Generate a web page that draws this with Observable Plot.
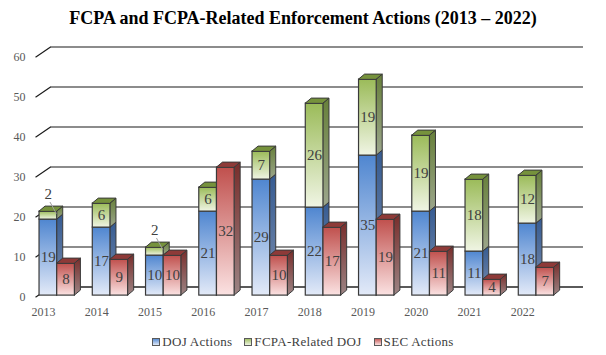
<!DOCTYPE html>
<html><head><meta charset="utf-8">
<script src="https://cdn.jsdelivr.net/npm/d3@7"></script>
<script src="https://cdn.jsdelivr.net/npm/@observablehq/plot@0.6"></script>
<style>
body{margin:0;background:#fff;width:606px;height:355px;overflow:hidden;font-family:"Liberation Serif","Times New Roman",serif;position:relative;}
#title{height:36px;line-height:36px;text-align:center;font-weight:bold;font-size:18px;color:#000;}
#chart svg{display:block;}
#legend{position:absolute;top:334px;left:0;width:606px;text-align:center;font-size:13px;line-height:16px;color:#404040;letter-spacing:0.3px;}
#legend .it{display:inline-block;margin:0 6px;}
#legend i{display:inline-block;width:6px;height:6px;border:1px solid #595959;margin-right:2px;vertical-align:0px;}
</style></head><body>
<svg width="0" height="0" style="position:absolute"><defs>
<linearGradient id="gBlue" x1="0" y1="0" x2="0" y2="1"><stop offset="0" stop-color="#4f86d0"/><stop offset="1" stop-color="#e3eaf8"/></linearGradient>
<linearGradient id="gBlueSide" x1="0" y1="0" x2="0" y2="1"><stop offset="0" stop-color="#355b92"/><stop offset="1" stop-color="#7d8fae"/></linearGradient>
<linearGradient id="gGreen" x1="0" y1="0" x2="0" y2="1"><stop offset="0" stop-color="#9bbb59"/><stop offset="1" stop-color="#f0f5e4"/></linearGradient>
<linearGradient id="gGreenSide" x1="0" y1="0" x2="0" y2="1"><stop offset="0" stop-color="#67803a"/><stop offset="1" stop-color="#9ca68c"/></linearGradient>
<linearGradient id="gRed" x1="0" y1="0" x2="0" y2="1"><stop offset="0" stop-color="#c0504d"/><stop offset="1" stop-color="#fbe2e2"/></linearGradient>
<linearGradient id="gRedSide" x1="0" y1="0" x2="0" y2="1"><stop offset="0" stop-color="#782d2b"/><stop offset="1" stop-color="#9c8484"/></linearGradient>
</defs></svg>
<div id="title">FCPA and FCPA-Related Enforcement Actions (2013 – 2022)</div>
<div id="chart"></div>
<div id="legend"><span class="it"><i style="background:linear-gradient(#5b8ed3,#dfe8f7)"></i>DOJ Actions</span><span class="it"><i style="background:linear-gradient(#a3c066,#eef4e2)"></i>FCPA-Related DOJ</span><span class="it"><i style="background:linear-gradient(#c65d5a,#fbe2e2)"></i>SEC Actions</span></div>
<script>
const years = [2013, 2014, 2015, 2016, 2017, 2018, 2019, 2020, 2021, 2022];
const dojActions = [19, 17, 10, 21, 29, 22, 35, 21, 11, 18];
const fcpaRelatedDoj = [2, 6, 2, 6, 7, 26, 19, 19, 18, 12];
const secActions = [8, 9, 10, 32, 10, 17, 19, 11, 4, 7];
const yTicks = [0, 10, 20, 30, 40, 50, 60];

// geometry (style constants, in scale units)
const BW = 0.332, OFF = -0.075, DX = 0.113, DY = 1.25, BASE = 0.4;
const GX0 = 2012.85, GX = 0.282, GY = 2.55, GXEND = 2023.14;

const segs = [];
years.forEach((yr, i) => {
  const l = yr + OFF, r = l + BW;
  segs.push({id: "d" + i, kind: "doj", x1: l, x2: r, y1: BASE, y2: BASE + dojActions[i], v: dojActions[i]});
  segs.push({id: "f" + i, kind: "rel", x1: l, x2: r, y1: BASE + dojActions[i], y2: BASE + dojActions[i] + fcpaRelatedDoj[i], v: fcpaRelatedDoj[i]});
  segs.push({id: "s" + i, kind: "sec", x1: r, x2: r + BW, y1: BASE, y2: BASE + secActions[i], v: secActions[i]});
});
const ofKind = k => segs.filter(s => s.kind === k);
const sideFace = arr => arr.flatMap(s => [{id: s.id, x: s.x2, y1: s.y1, y2: s.y2}, {id: s.id, x: s.x2 + DX, y1: s.y1 + DY, y2: s.y2 + DY}]);
const topFace = arr => arr.flatMap(s => [{id: s.id, y: s.y2, x1: s.x1, x2: s.x2}, {id: s.id, y: s.y2 + DY, x1: s.x1 + DX, x2: s.x2 + DX}]);
const EDGE = "#3a3a3a";

function faces(kind, front, sideFill, topFill, withTop) {
  const a = ofKind(kind);
  const m = [
    Plot.areaY(sideFace(a), {x: "x", y1: "y1", y2: "y2", z: "id", fill: sideFill, stroke: EDGE, strokeWidth: 1}),
    Plot.rect(a, {x1: "x1", x2: "x2", y1: "y1", y2: "y2", fill: front, stroke: EDGE, strokeWidth: 1.2})
  ];
  if (withTop) m.push(Plot.areaX(topFace(a), {y: "y", x1: "x1", x2: "x2", z: "id", fill: topFill, stroke: EDGE, strokeWidth: 1}));
  return m;
}

const small = ofKind("rel").filter(s => s.v < 4);
const normal = segs.filter(s => !(s.kind === "rel" && s.v < 4));

const chart = Plot.plot({
  width: 606, height: 285,
  marginLeft: 28, marginBottom: 24.3, marginTop: 20.7, marginRight: 10,
  x: {domain: [2012.5, 2022.5], range: [16.4, 548.9]},
  y: {domain: [0, 60], range: [260.7, 20.7]},
  style: {fontFamily: "'Liberation Serif','Times New Roman',serif", color: "#595959", background: "#fff"},
  marks: [
    Plot.ruleY(yTicks.filter(v => v > 0), {y: d => d + GY, x1: GX0 + GX, x2: GXEND, stroke: "#1a1a1a", strokeWidth: 1.2}),
    Plot.ruleY([0], {y: d => d + GY, x1: GX0 + GX, x2: GXEND, stroke: "#5a5a5a", strokeWidth: 2}),
    Plot.link(yTicks, {x1: GX0, y1: d => d, x2: GX0 + GX, y2: d => d + GY, stroke: "#1a1a1a", strokeWidth: 1.2}),
    Plot.axisY(yTicks, {tickSize: 0, tickPadding: 3, fontSize: 12, label: null}),
    Plot.axisX(years, {tickSize: 0, tickPadding: 10.5, fontSize: 12, label: null, tickFormat: d => String(d)}),
    ...faces("doj", "url(#gBlue)", "url(#gBlueSide)", null, false),
    ...faces("rel", "url(#gGreen)", "url(#gGreenSide)", "#76923c", true),
    ...faces("sec", "url(#gRed)", "url(#gRedSide)", "#8e3a38", true),
    Plot.text(normal, {x: d => (d.x1 + d.x2) / 2, y: d => (d.y1 + d.y2) / 2, text: d => String(d.v), fill: "#404040", fontSize: 15}),
    Plot.link(small, {x1: d => (d.x1 + d.x2) / 2 + 0.03, y1: d => d.y2 + 2.4, x2: d => (d.x1 + d.x2) / 2 + 0.15, y2: d => d.y2 - 0.5, stroke: "#a0a0a0", strokeWidth: 1}),
    Plot.text(small, {x: d => (d.x1 + d.x2) / 2, y: d => d.y2 + 4.4, text: d => String(d.v), fill: "#404040", fontSize: 15})
  ]
});
document.getElementById("chart").appendChild(chart);
</script>
</body></html>
